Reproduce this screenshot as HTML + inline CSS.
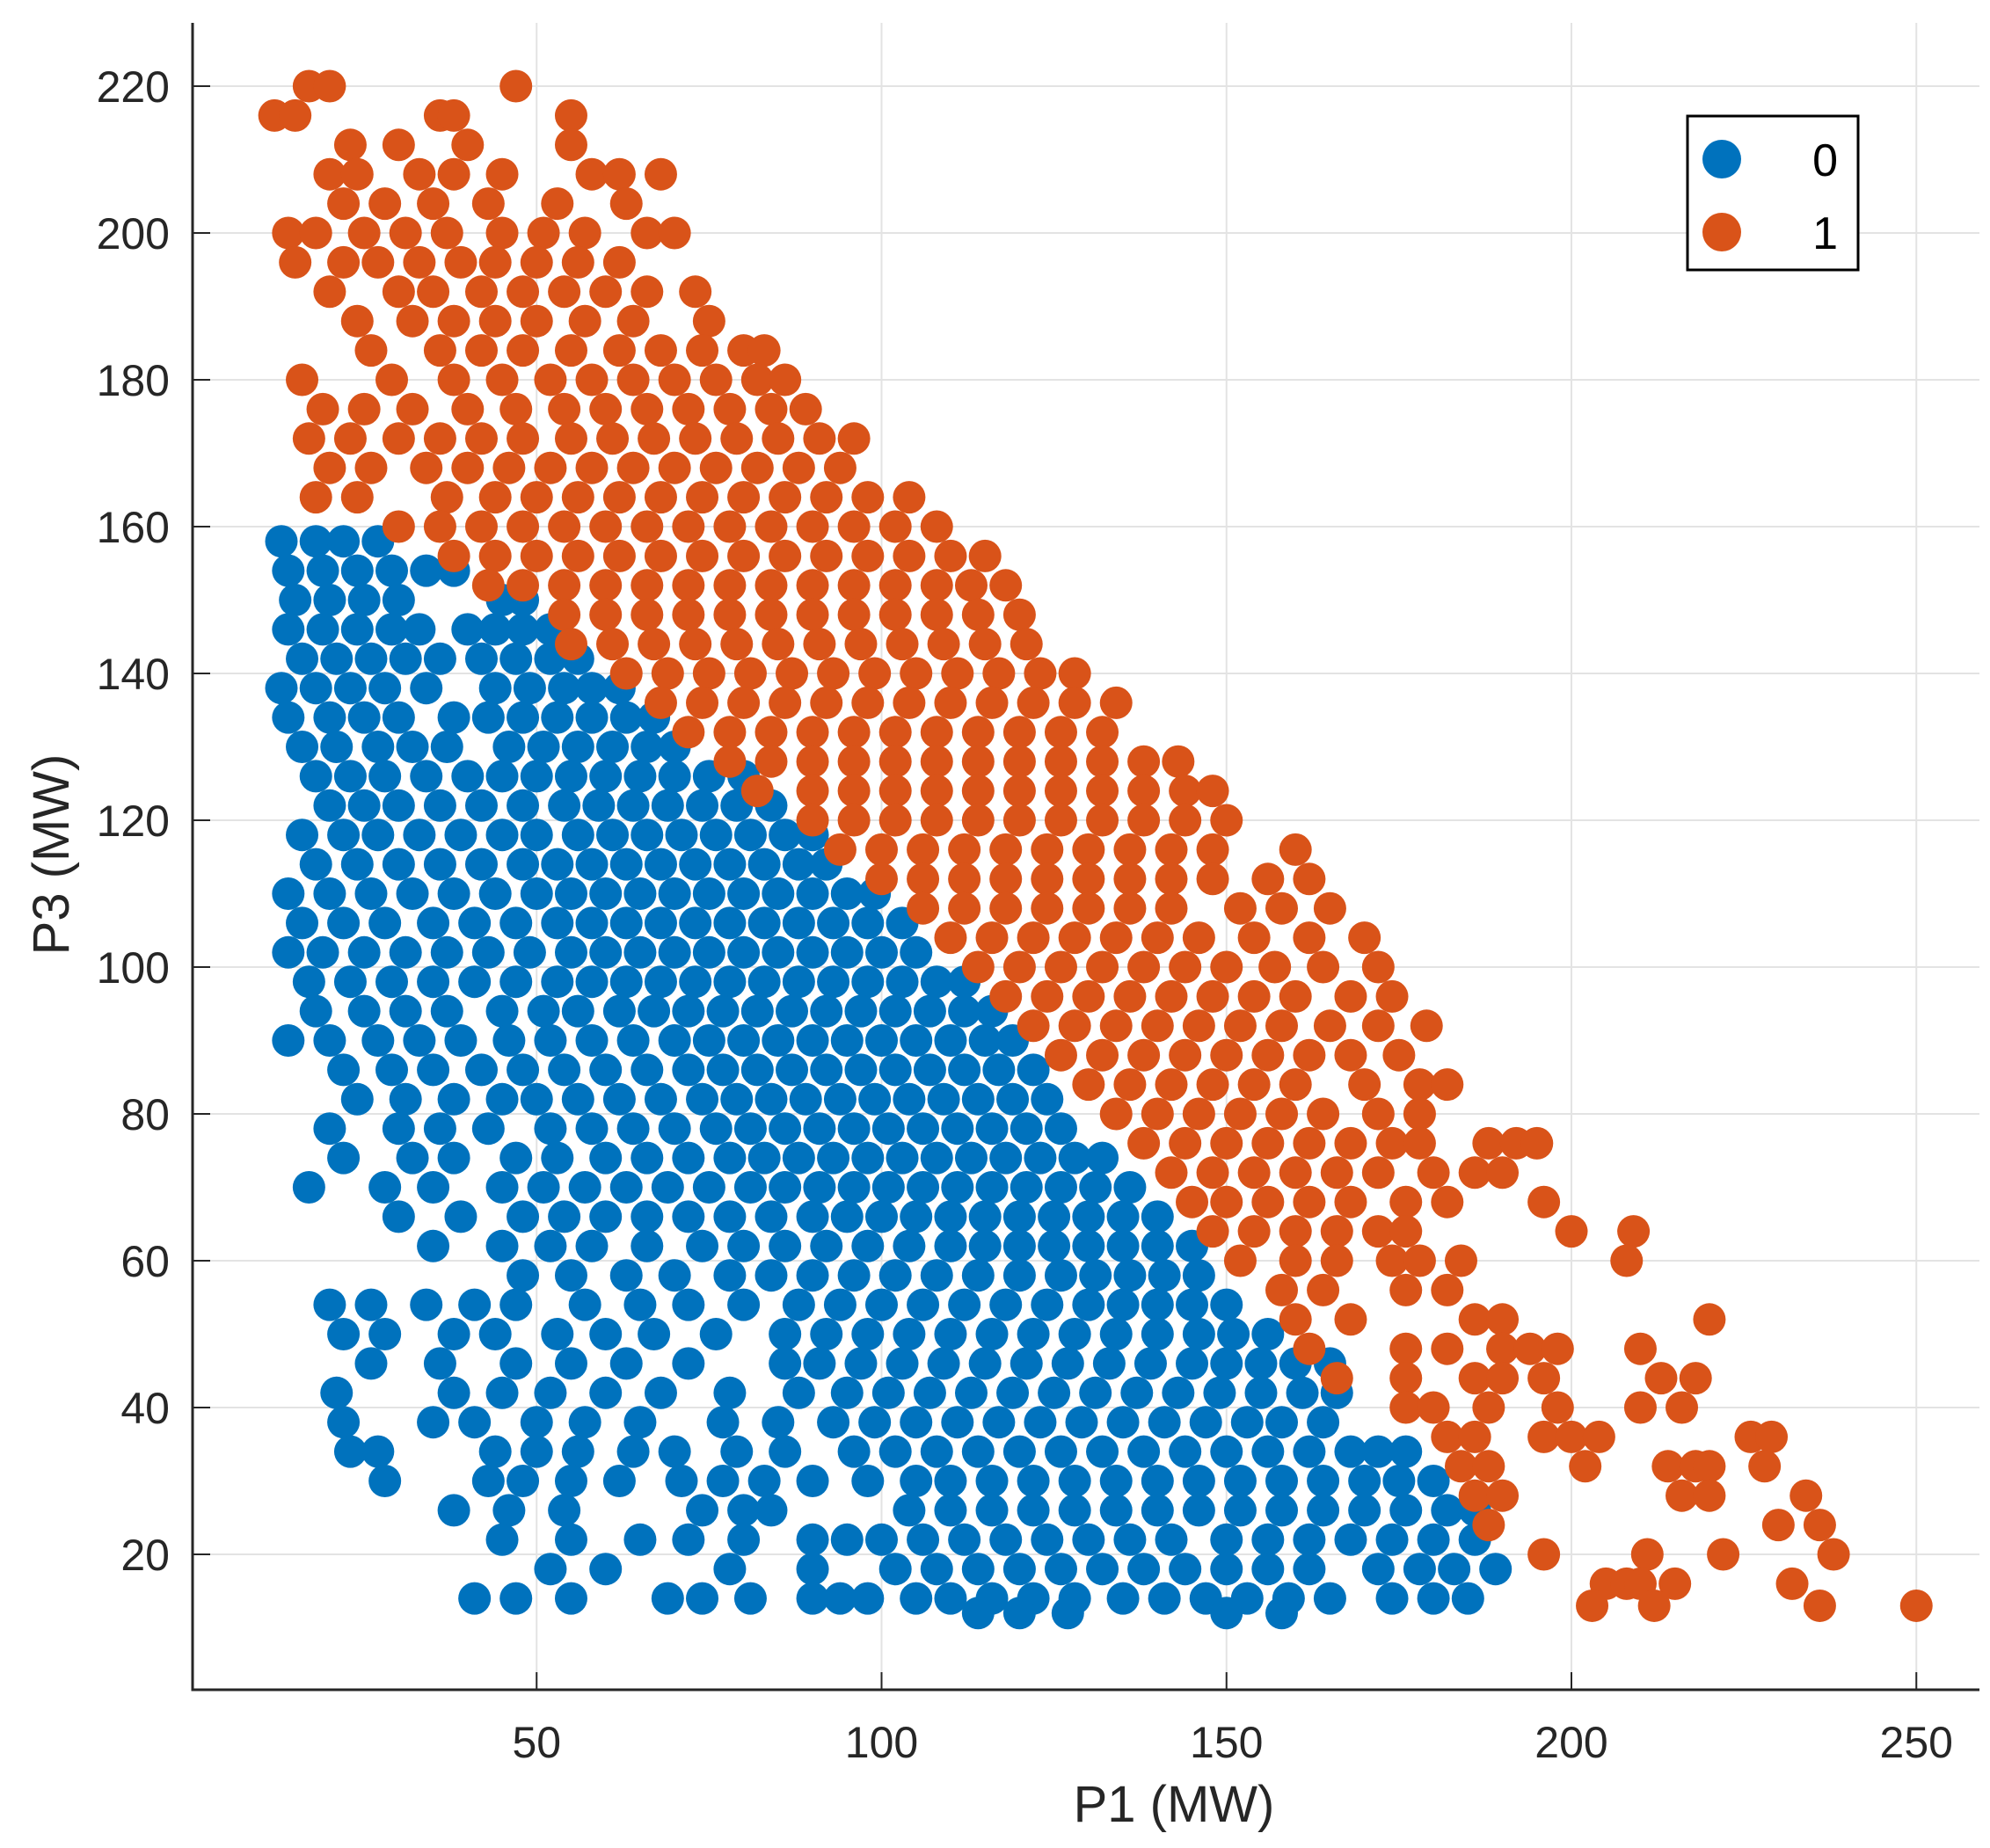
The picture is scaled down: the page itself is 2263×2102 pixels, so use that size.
<!DOCTYPE html>
<html><head><meta charset="utf-8"><style>
html,body{margin:0;padding:0;background:#fff;}
svg{display:block;font-family:"Liberation Sans",Arial,sans-serif;}
</style></head><body>
<svg id="chart" width="2263" height="2102" viewBox="0 0 2263 2102" xmlns="http://www.w3.org/2000/svg">
<g id="grid"></g>
<g id="marks"></g>
<g id="axes"></g>
<text x="1335" y="2072" font-size="58" text-anchor="middle" fill="#262626">P1 (MW)</text>
<text transform="translate(78,972) rotate(-90)" font-size="58" text-anchor="middle" fill="#262626">P3 (MW)</text>
<g>
<rect x="1919" y="132" width="194" height="175" fill="#fff" stroke="#000" stroke-width="3"/>
<circle cx="1958" cy="181" r="22" fill="#0072BD"/>
<text x="2090" y="200" font-size="52" text-anchor="end" fill="#000">0</text>
<circle cx="1958" cy="264" r="22" fill="#D95319"/>
<text x="2090" y="283" font-size="52" text-anchor="end" fill="#000">1</text>
</g>
</svg>
<script>
const xTicks=[50,100,150,200,250];
const yTicks=[20,40,60,80,100,120,140,160,180,200,220];
const blueRows=[
[158,[13,18,22,27]],
[154,[14,19,24,29,34,38]],
[150,[15,20,25,30,45,48]],
[146,[14,19,24,29,33,40,44,48,52]],
[142,[16,21,26,31,36,42,47,52,56]],
[138,[13,18,23,28,34,44,49,54,58,62]],
[134,[14,20,25,30,38,43,48,53,58,63,67]],
[130,[16,21,27,32,37,46,51,56,61,66,70]],
[126,[18,23,28,34,40,45,50,55,60,65,70,75,80]],
[122,[20,25,30,36,42,48,54,59,64,69,74,79,84]],
[118,[16,22,27,33,39,45,50,56,61,66,71,76,81,86,90]],
[114,[18,24,30,36,42,48,53,58,63,68,73,78,83,88,92]],
[110,[14,20,26,32,38,44,50,55,60,65,70,75,80,85,90,95,99]],
[106,[16,22,28,35,41,47,53,58,63,68,73,78,83,88,93,98,103]],
[102,[14,19,25,31,37,43,49,55,60,65,70,75,80,85,90,95,100,105]],
[98,[17,23,29,35,41,47,53,58,63,68,73,78,83,88,93,98,103,108,112]],
[94,[18,25,31,37,45,51,56,62,67,72,77,82,87,92,97,102,107,112,116]],
[90,[14,20,27,33,39,46,52,58,64,70,75,80,85,90,95,100,105,110,115,119]],
[86,[22,29,35,42,48,54,60,66,72,77,82,87,92,97,102,107,112,117,122]],
[82,[24,31,38,45,50,56,62,68,74,79,84,89,94,99,104,109,114,119,124]],
[78,[20,30,36,43,52,58,64,70,76,81,86,91,96,101,106,111,116,121,126]],
[74,[22,32,38,47,53,60,66,72,78,83,88,93,98,103,108,113,118,123,128,132]],
[70,[17,28,35,45,51,57,63,69,75,81,86,91,96,101,106,111,116,121,126,131,136]],
[66,[30,39,48,54,60,66,72,78,84,90,95,100,105,110,115,120,125,130,135,140]],
[62,[35,45,52,58,66,74,80,86,92,98,104,110,115,120,125,130,135,140,145]],
[58,[48,55,63,70,78,84,90,96,102,108,114,120,126,131,136,141,146]],
[54,[20,26,34,41,47,57,65,72,80,88,94,100,106,112,118,124,130,135,140,145,150]],
[50,[22,28,38,44,53,60,67,76,86,92,98,104,110,116,122,128,134,140,146,151,156]],
[46,[26,36,47,55,63,72,86,91,97,103,109,115,121,127,133,139,145,150,155,160,165]],
[42,[21,38,45,52,60,68,78,88,95,101,107,113,119,125,131,137,143,149,155,161,166]],
[38,[22,35,41,50,57,65,77,85,93,99,105,111,117,123,129,135,141,147,153,158,164]],
[34,[23,27,44,50,56,64,70,79,86,96,102,108,114,120,126,132,138,144,150,156,162,168,172,176]],
[30,[28,43,48,55,62,71,77,83,90,98,105,110,116,122,128,134,140,146,152,158,164,170,175,180]],
[26,[38,46,54,74,80,84,104,110,116,122,128,134,140,146,152,158,164,170,176,182,186]],
[22,[45,55,65,72,80,90,95,100,106,112,118,124,130,136,142,150,156,162,168,174,180,186]],
[18,[52,60,78,90,102,108,114,120,126,132,138,144,150,156,162,172,178,183,189]],
[14,[41,47,55,69,74,81,90,94,98,105,110,116,122,128,135,141,147,153,159,165,174,180,185]],
[12,[114,120,127,150,158]]
];
const orangeRows=[
[220,[17,20,47]],
[216,[12,15,36,38,55]],
[212,[23,30,40,55]],
[208,[20,24,33,38,45,58,62,68]],
[204,[22,28,35,43,53,63]],
[200,[14,18,25,31,37,45,51,57,66,70]],
[196,[15,22,27,33,39,44,50,56,62]],
[192,[20,30,35,42,48,54,60,66,73]],
[188,[24,32,38,44,50,57,64,75]],
[184,[26,36,42,48,55,62,68,74,80,83]],
[180,[16,29,38,45,52,58,64,70,76,82,86]],
[176,[19,25,32,40,47,54,60,66,72,78,84,89]],
[172,[17,23,30,36,42,48,55,61,67,73,79,85,91,96]],
[168,[20,26,34,40,46,52,58,64,70,76,82,88,94]],
[164,[18,24,37,44,50,56,62,68,74,80,86,92,98,104]],
[160,[30,36,42,48,54,60,66,72,78,84,90,96,102,108]],
[156,[38,44,50,56,62,68,74,80,86,92,98,104,110,115]],
[152,[43,48,54,60,66,72,78,84,90,96,102,108,113,118]],
[148,[54,60,66,72,78,84,90,96,102,108,114,120]],
[144,[55,61,67,73,79,85,91,97,103,109,115,121]],
[140,[63,69,75,81,87,93,99,105,111,117,123,128]],
[136,[68,74,80,86,92,98,104,110,116,122,128,134]],
[132,[72,78,84,90,96,102,108,114,120,126,132]],
[128,[78,84,90,96,102,108,114,120,126,132,138,143]],
[124,[82,90,96,102,108,114,120,126,132,138,144,148]],
[120,[90,96,102,108,114,120,126,132,138,144,150]],
[116,[94,100,106,112,118,124,130,136,142,148,160]],
[112,[100,106,112,118,124,130,136,142,148,156,162]],
[108,[106,112,118,124,130,136,142,152,158,165]],
[104,[110,116,122,128,134,140,146,154,162,170]],
[100,[114,120,126,132,138,144,150,157,164,172]],
[96,[118,124,130,136,142,148,154,160,168,174]],
[92,[122,128,134,140,146,152,158,165,172,179]],
[88,[126,132,138,144,150,156,162,168,175]],
[84,[130,136,142,148,154,160,170,178,182]],
[80,[134,140,146,152,158,164,172,178]],
[76,[138,144,150,156,162,168,174,178,188,192,195]],
[72,[142,148,154,160,166,172,180,186,190]],
[68,[145,150,156,162,168,176,182,196]],
[64,[148,154,160,166,172,176,200,209]],
[60,[152,160,166,174,178,184,208]],
[56,[158,164,176,182]],
[52,[160,168,186,190,220]],
[48,[162,176,182,190,194,198,210]],
[44,[166,176,186,190,196,213,218]],
[40,[176,180,188,198,210,216]],
[36,[182,186,196,200,204,226,229]],
[32,[184,188,202,214,218,220,228]],
[28,[186,190,216,220,234]],
[24,[188,230,236]],
[20,[196,211,222,238]],
[16,[205,208,210,215,232]],
[13,[203,212,236,250]]
];
const NS='http://www.w3.org/2000/svg';
const X0=218, PX=7.845, Y220=98, PY=8.35;
const L=219, R=2251, T=26, B=1922;
function xs(v){return X0+v*PX;}
function ys(v){return Y220+(220-v)*PY;}
function mk(tag,attrs,parent){const e=document.createElementNS(NS,tag);for(const k in attrs)e.setAttribute(k,attrs[k]);parent.appendChild(e);return e;}
const grid=document.getElementById('grid'),axes=document.getElementById('axes'),marks=document.getElementById('marks');
xTicks.forEach(t=>{
  const g=mk('line',{x1:xs(t),x2:xs(t),y1:T,y2:B,stroke:'#e3e3e3','stroke-width':2},grid);
  
  
  const tk=mk('line',{x1:xs(t),x2:xs(t),y1:B,y2:B-20,stroke:'#262626','stroke-width':2},axes);
  
  
  const tx=mk('text',{x:xs(t),y:1999,'font-size':50,'text-anchor':'middle',fill:'#262626'},axes);
  tx.textContent=t;
  
  
});
yTicks.forEach(t=>{
  const g=mk('line',{x1:L,x2:R,y1:ys(t),y2:ys(t),stroke:'#e3e3e3','stroke-width':2},grid);
  
  
  const tk=mk('line',{x1:L,x2:L+20,y1:ys(t),y2:ys(t),stroke:'#262626','stroke-width':2},axes);
  
  
  const tx=mk('text',{x:193,y:ys(t)+18,'font-size':50,'text-anchor':'end',fill:'#262626'},axes);
  tx.textContent=t;
  
  
});
const ax=mk('path',{d:`M${L} ${T} V${B} H${R}`,fill:'none',stroke:'#262626','stroke-width':3},axes);


function draw(rows,color,name){
  rows.forEach(([y,xsArr])=>{xsArr.forEach(x=>{
    const c=mk('circle',{cx:xs(x),cy:ys(y),r:18.5,fill:color},marks);
    
    
  });});
}
draw(blueRows,'#0072BD','point-class-0');
draw(orangeRows,'#D95319','point-class-1');
</script>
</body></html>
